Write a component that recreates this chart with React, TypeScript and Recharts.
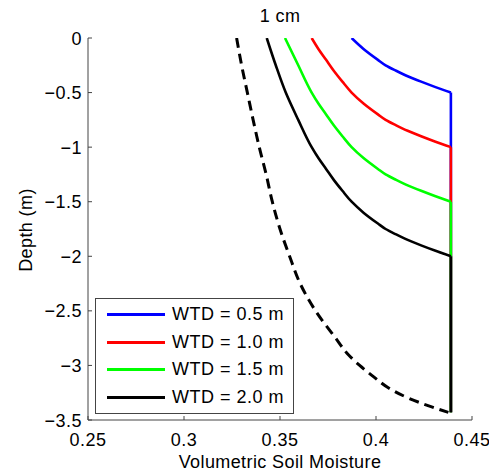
import React from 'react';
import { LineChart, Line, XAxis, YAxis, Legend } from 'recharts';

// soil moisture profiles for four water table depths, plus the deep (dashed) profile
const blueDepth = [0, -0.1, -0.2, -0.25, -0.3, -0.35, -0.4, -0.45, -0.5, -3.43];
const blueMoisture = [0.3873, 0.3935, 0.401, 0.405, 0.4105, 0.4165, 0.4235, 0.431, 0.439, 0.439];

const redDepth = [0, -0.1, -0.2, -0.3, -0.4, -0.5, -0.6, -0.7, -0.75, -0.8, -0.85, -0.9, -0.95, -1.0, -3.43];
const redMoisture = [0.3665, 0.37, 0.374, 0.378, 0.3825, 0.3873, 0.3935, 0.401, 0.405, 0.4105, 0.4165, 0.4235, 0.431, 0.439, 0.439];

const greenDepth = [0, -0.25, -0.5, -0.6, -0.7, -0.8, -0.9, -1.0, -1.1, -1.2, -1.25, -1.3, -1.35, -1.4, -1.45, -1.5, -3.43];
const greenMoisture = [0.3526, 0.3595, 0.3665, 0.37, 0.374, 0.378, 0.3825, 0.3873, 0.3935, 0.401, 0.405, 0.4105, 0.4165, 0.4235, 0.431, 0.439, 0.439];

const blackDepth = [0, -0.25, -0.5, -0.75, -1.0, -1.1, -1.2, -1.3, -1.4, -1.5, -1.6, -1.7, -1.75, -1.8, -1.85, -1.9, -1.95, -2.0, -3.43];
const blackMoisture = [0.3431, 0.3478, 0.353, 0.3595, 0.3665, 0.37, 0.374, 0.378, 0.3825, 0.3873, 0.3935, 0.401, 0.405, 0.4105, 0.4165, 0.4235, 0.431, 0.439, 0.439];

const dashDepth = [0, -0.25, -0.5, -0.75, -1.0, -1.25, -1.5, -1.75, -2.0, -2.25, -2.5, -2.75, -2.9, -3.0, -3.1, -3.2, -3.3, -3.38, -3.43];
const dashMoisture = [0.3274, 0.33, 0.333, 0.336, 0.3392, 0.3428, 0.346, 0.35, 0.355, 0.3605, 0.3685, 0.379, 0.3855, 0.3915, 0.3985, 0.406, 0.417, 0.429, 0.4377];

const WTD_LABELS = ['WTD = 0.5 m', 'WTD = 1.0 m', 'WTD = 1.5 m', 'WTD = 2.0 m'];
const WTD_COLORS = ['#0000ff', '#ff0000', '#00ff00', '#000000'];

const X_TICKS = [0.25, 0.3, 0.35, 0.4, 0.45];
const Y_TICKS = [0, -0.5, -1, -1.5, -2, -2.5, -3, -3.5];

const FONT = '"Liberation Sans", Arial, Helvetica, sans-serif';
const AXIS = '#444';

const toRows = (depth: number[], moisture: number[]) =>
    depth.map((d, i) => ({ d, m: moisture[i] }));

const series = [
    toRows(blueDepth, blueMoisture),
    toRows(redDepth, redMoisture),
    toRows(greenDepth, greenMoisture),
    toRows(blackDepth, blackMoisture),
];
const dashed = toRows(dashDepth, dashMoisture);

const fmtY = (v: number) => (v === 0 ? '0' : '\u2212' + Math.abs(v));

const YTick = ({ x, y, payload }: any) => {
    const ax = x + 6;
    return (
        <g>
            <line x1={ax} x2={ax + 4} y1={y} y2={y} stroke={AXIS} />
            <text x={x} y={y} dy={6.5} textAnchor="end" fontSize={18} fontFamily={FONT} fill="#000" letterSpacing={0.5}>
                {fmtY(payload.value)}
            </text>
        </g>
    );
};

const XTick = ({ x, y, payload }: any) => {
    const ay = y - 6;
    return (
        <g>
            <line x1={x} x2={x} y1={ay} y2={ay - 4} stroke={AXIS} />
            <text x={x} y={y} dy={19.5} textAnchor="middle" fontSize={18} fontFamily={FONT} fill="#000" letterSpacing={0.5}>
                {String(payload.value)}
            </text>
        </g>
    );
};

const XLabel = ({ viewBox }: any) => (
    <text x={viewBox.x + viewBox.width / 2} y={viewBox.y + 48} textAnchor="middle" fontSize={18} fontFamily={FONT} fill="#000" letterSpacing={0.4}>
        Volumetric Soil Moisture
    </text>
);

const YLabel = ({ viewBox }: any) => {
    const cx = viewBox.x + 32;
    const cy = viewBox.y + viewBox.height / 2 + 1;
    return (
        <text x={cx} y={cy} transform={`rotate(-90, ${cx}, ${cy})`} textAnchor="middle" fontSize={18} fontFamily={FONT} fill="#000" letterSpacing={0.4}>
            Depth (m)
        </text>
    );
};

const LegendBox = () => (
    <div style={{ width: 199, height: 116, boxSizing: 'border-box', border: `1px solid ${AXIS}`, background: '#fff', paddingTop: 2, fontFamily: FONT }}>
        {WTD_LABELS.map((label, i) => (
            <div key={label} style={{ display: 'flex', alignItems: 'center', height: 27.5 }}>
                <span style={{ display: 'inline-block', marginLeft: 11, width: 58, height: 3, background: WTD_COLORS[i] }} />
                <span style={{ marginLeft: 7, fontSize: 18, letterSpacing: 0.5, color: '#000', whiteSpace: 'nowrap' }}>{label}</span>
            </div>
        ))}
    </div>
);

export default function App() {
    return (
        <div style={{ position: 'absolute', left: 0, top: 0, width: 489, height: 473, background: '#fff' }}>
            <div style={{ position: 'absolute', left: 0, top: 6, width: 560, textAlign: 'center', fontSize: 18, lineHeight: '20px', fontFamily: FONT, letterSpacing: 0.4 }}>
                1 cm
            </div>
            <LineChart width={489} height={473} margin={{ top: 38, right: 17, bottom: 0, left: 0 }}>
                <XAxis
                    type="number"
                    dataKey="m"
                    domain={[0.25, 0.45]}
                    ticks={X_TICKS}
                    interval={0}
                    height={53}
                    tickLine={false}
                    tickSize={6}
                    tickMargin={0}
                    stroke={AXIS}
                    tick={<XTick />}
                    label={<XLabel />}
                    allowDataOverflow
                />
                <YAxis
                    type="number"
                    domain={[-3.5, 0]}
                    ticks={Y_TICKS}
                    interval={0}
                    width={88}
                    tickLine={false}
                    tickSize={6}
                    tickMargin={0}
                    stroke={AXIS}
                    tick={<YTick />}
                    label={<YLabel />}
                    allowDataOverflow
                />
                <Legend layout="vertical" align="center" verticalAlign="middle" content={<LegendBox />}
                    wrapperStyle={{ left: 95, top: 298, width: 199, height: 116 }} />
                {series.map((rows, i) => [
                    // curved part above the water table
                    <Line
                        key={WTD_LABELS[i] + '-curve'}
                        data={rows.slice(0, -1)}
                        dataKey="d"
                        type="monotoneY"
                        stroke={WTD_COLORS[i]}
                        strokeWidth={2.6}
                        dot={false}
                        activeDot={false}
                        isAnimationActive={false}
                    />,
                    // saturated part below it
                    <Line
                        key={WTD_LABELS[i] + '-sat'}
                        data={rows.slice(-2)}
                        dataKey="d"
                        type="linear"
                        stroke={WTD_COLORS[i]}
                        strokeWidth={2.6}
                        dot={false}
                        activeDot={false}
                        legendType="none"
                        isAnimationActive={false}
                    />,
                ])}
                <Line
                    data={dashed}
                    dataKey="d"
                    type="monotoneY"
                    stroke="#000"
                    strokeWidth={3}
                    strokeDasharray="10 6"
                    dot={false}
                    activeDot={false}
                    legendType="none"
                    isAnimationActive={false}
                />
            </LineChart>
        </div>
    );
}
